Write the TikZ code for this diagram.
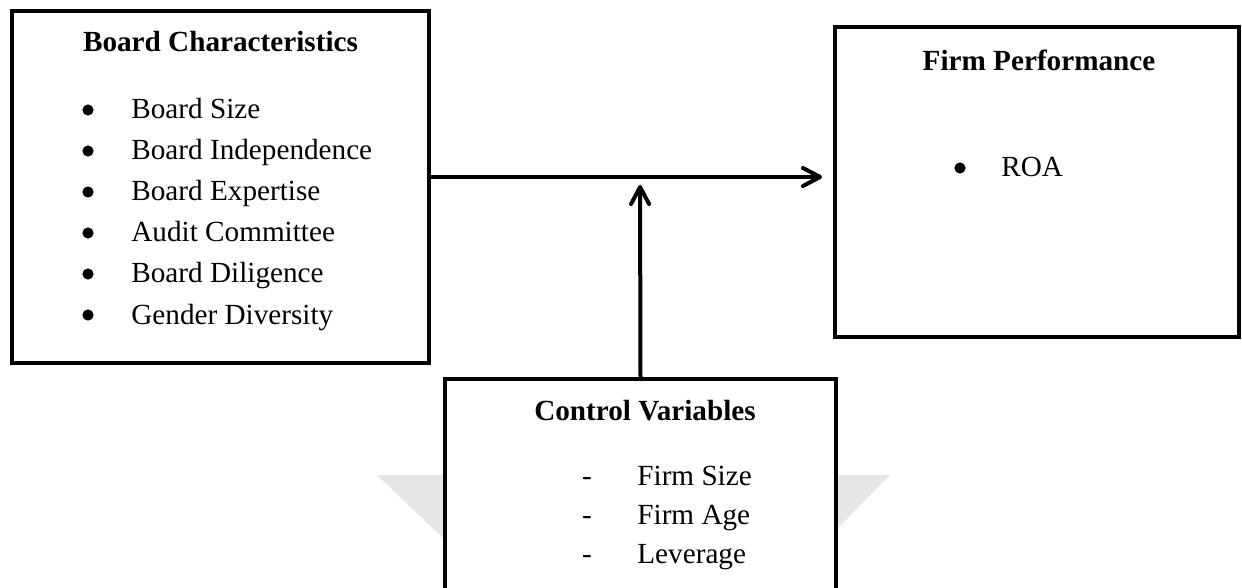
\documentclass[tikz,border=0pt]{standalone}
\usepackage{fontspec}
\setmainfont{Liberation Serif}
\usepackage{xcolor}
\usetikzlibrary{arrows.meta, positioning}
\definecolor{wmark}{RGB}{230,230,230}

\tikzset{
  box/.style={draw, line width=2.25pt, fill=white, inner sep=0pt, outer sep=0pt},
  head/.style={font=\fontsize{14.6}{18}\selectfont\bfseries, anchor=base, inner sep=0pt},
  item/.style={font=\fontsize{14.6}{18}\selectfont, anchor=base west, inner sep=0pt},
  bul/.style={font=\fontsize{14.6}{18}\selectfont, anchor=base, inner sep=0pt},
  dot/.style={circle, fill=black, inner sep=0pt, minimum size=5.6pt},
  flow/.style={line width=2pt, -{Straight Barb[length=8.5pt, width=9pt, round]}}
}

\begin{document}
\begin{tikzpicture}[x=0.5pt, y=-0.5pt]
  \useasboundingbox (0,0) rectangle (1242,588);
  \clip (0,0) rectangle (1242,588);
  % faint watermark behind the control box
  \fill[wmark] (377,475) -- (445,475) -- (445,540) -- cycle;
  \fill[wmark] (836,475) -- (890,475) -- (836,530) -- cycle;
  % Board characteristics
  \node[box, minimum width=208.5pt, minimum height=176pt] (board) at (220.5,187) {};
  \node[head] (boardhead) at (220.5,52) {Board Characteristics};
  \foreach \txt [count=\i] in {Board Size, Board Independence, Board Expertise,
      Audit Committee, Board Diligence, Gender Diversity} {
    \node[dot] (bcdot\i) at (88,{69+41*\i}) {};
    \node[item] (bc\i) at (131,{78+41*\i}) {\txt};
  }
  % Firm performance
  \node[box, minimum width=202pt, minimum height=155pt] (perf) at (1037,182) {};
  \node[head] (perfhead) at (1039,71) {Firm Performance};
  \node[dot] (fpdot) at (960,168) {};
  \node[item] (fp) at (1001,177) {ROA};
  % Control variables
  \node[box, minimum width=195.5pt, minimum height=115.5pt] (ctrl) at (640.5,494.5) {};
  \node[head] (ctrlhead) at (645,420) {Control Variables};
  \foreach \txt [count=\i] in {Firm Size, Firm Age, Leverage} {
    \node[bul] (cvdash\i) at (587,{446+39*\i}) {-};
    \node[item] (cv\i) at (637,{446+39*\i}) {\txt};
  }
  % Arrows
  \coordinate (join) at (640,177);
  \draw[flow, shorten >=6.5pt] (board.east |- join) -- (perf.west |- join);
  \draw[flow, shorten >=4pt] (ctrl.north) -- (join);
\end{tikzpicture}
\end{document}
